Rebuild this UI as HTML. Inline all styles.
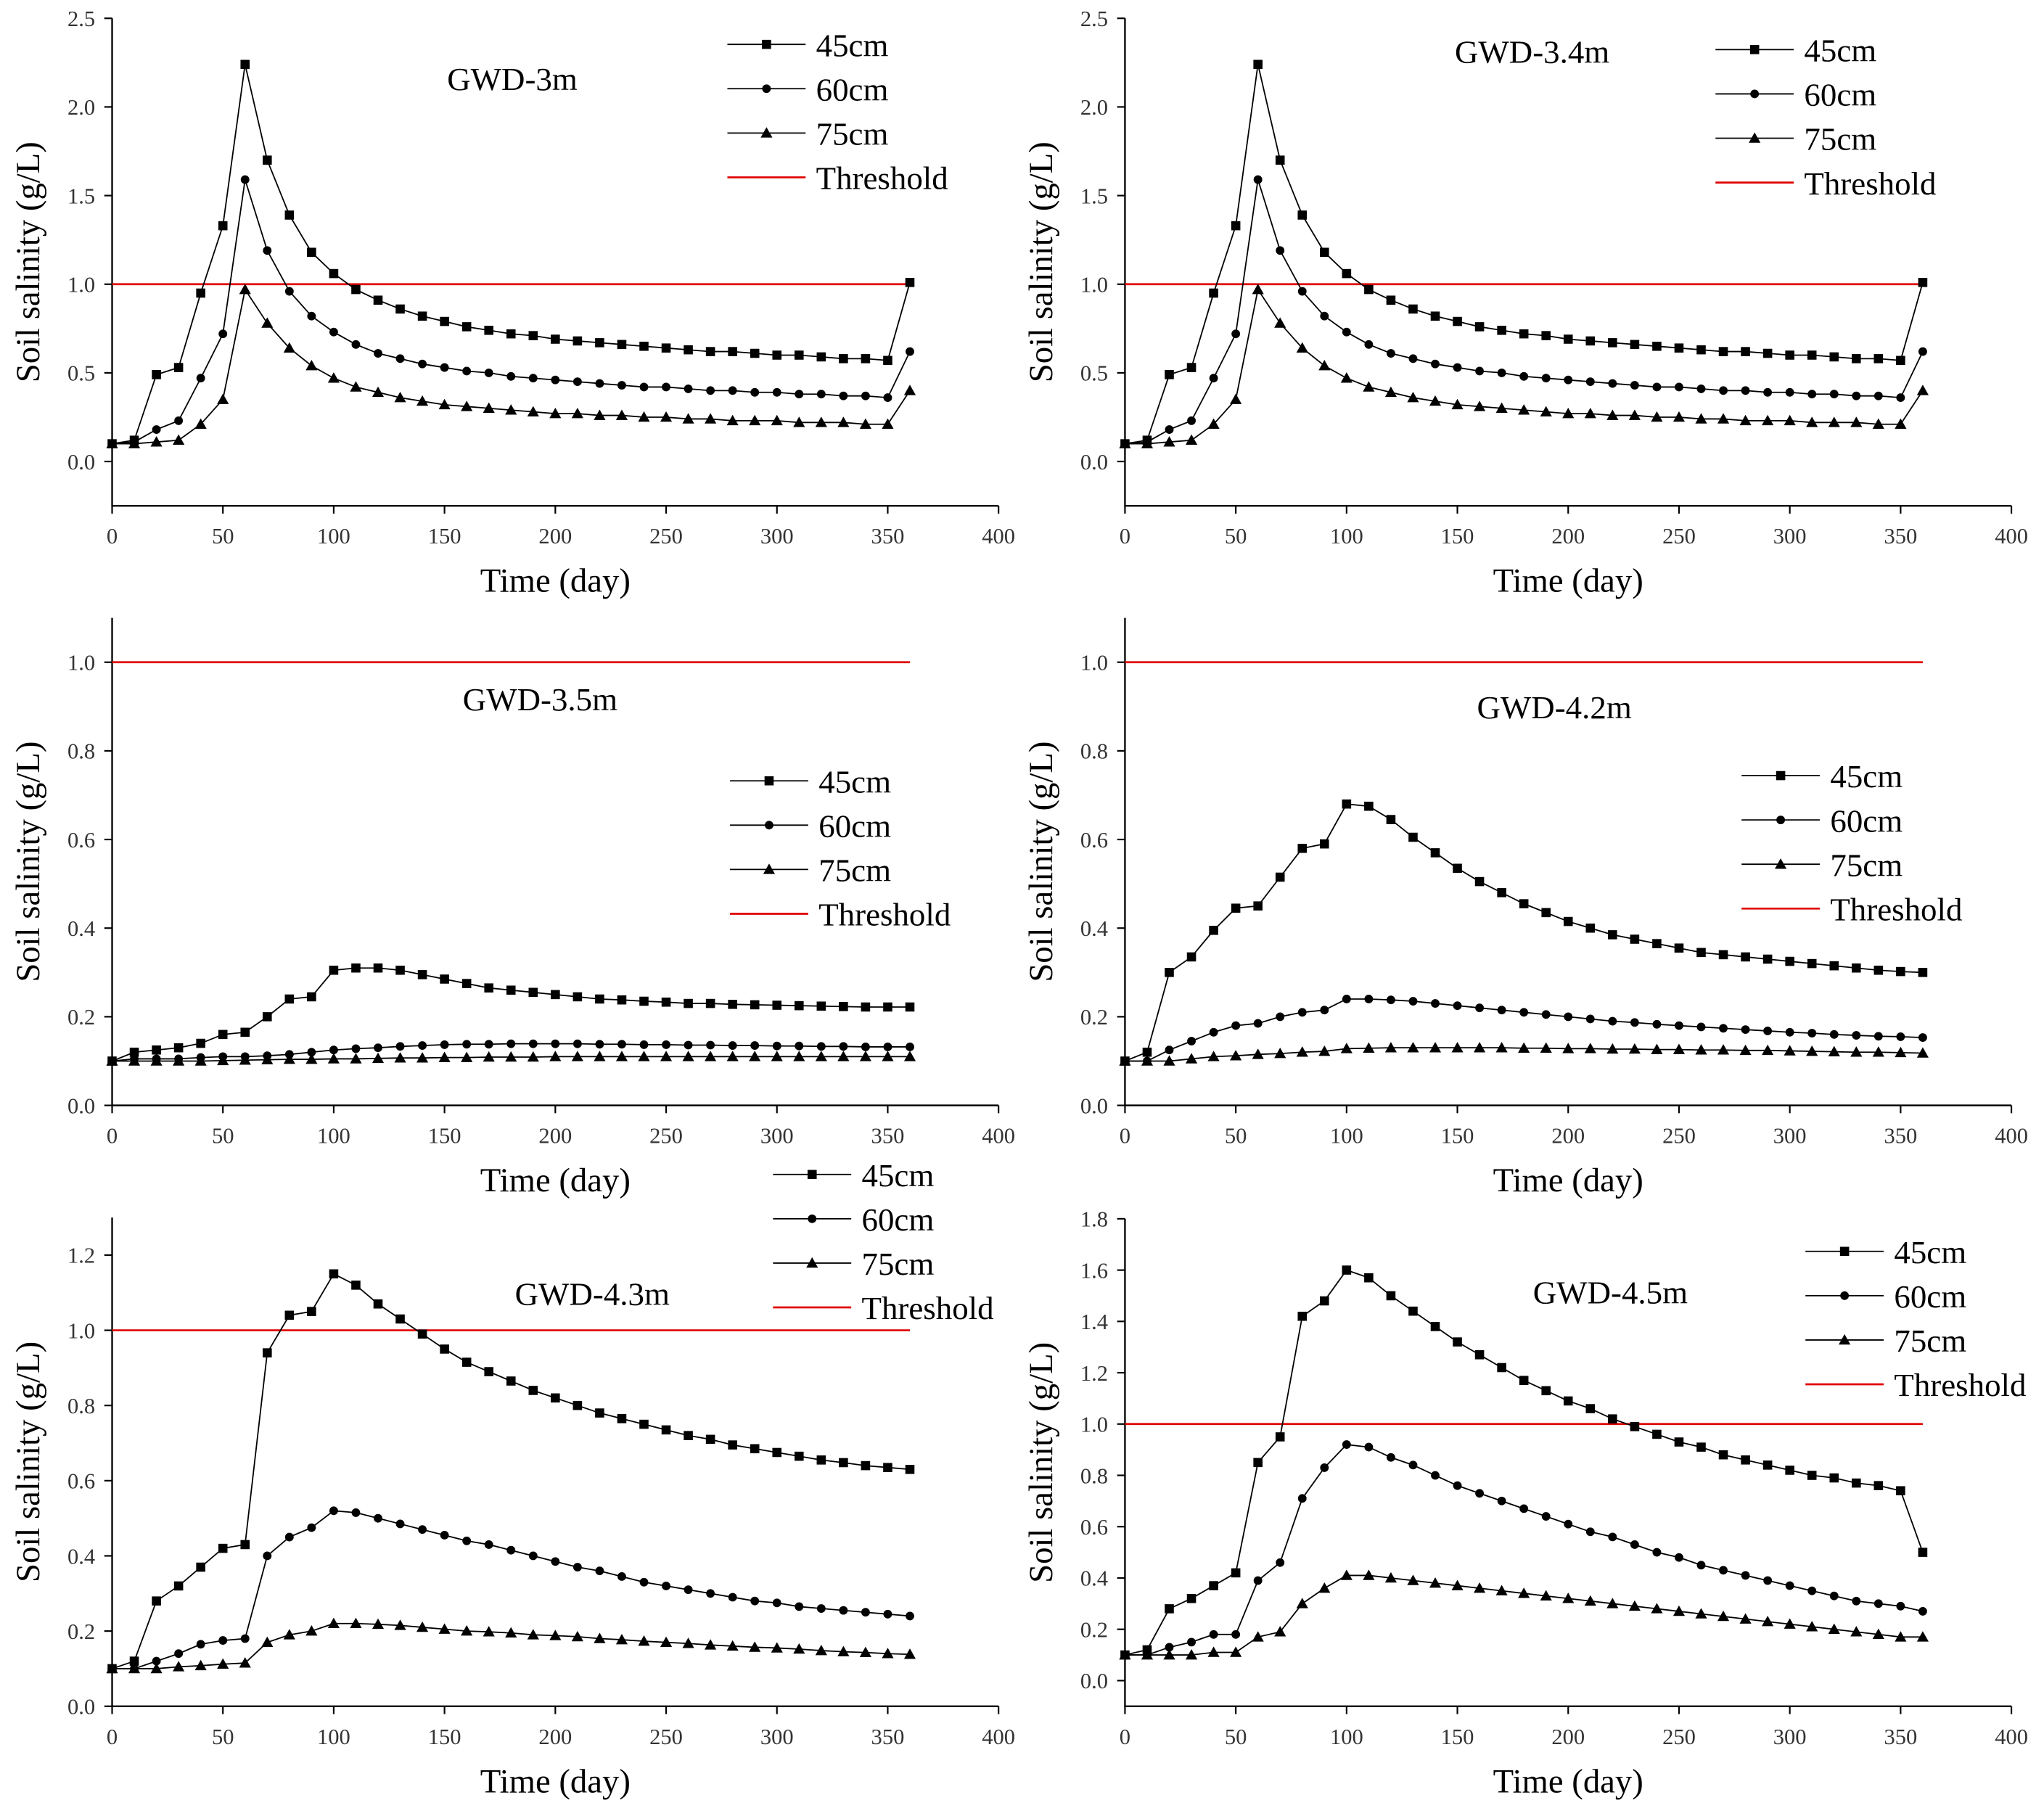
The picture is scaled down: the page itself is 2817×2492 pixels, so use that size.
<!DOCTYPE html>
<html><head><meta charset="utf-8"><style>
html,body{margin:0;padding:0;background:#fff}
svg{display:block}
</style></head><body>
<svg id="chart" width="2817" height="2492" viewBox="0 0 1568 1387" xmlns="http://www.w3.org/2000/svg" font-family="'Liberation Serif', serif"></svg>
<script>
const days = [0,10,20,30,40,50,60,70,80,90,100,110,120,130,140,150,160,170,180,190,200,210,220,230,240,250,260,270,280,290,300,310,320,330,340,350,360];
const xTicks = [0,50,100,150,200,250,300,350,400];
const seriesNames = ["45cm","60cm","75cm"];
const threshold = 1.0;

const p1s45 = [0.1,0.12,0.49,0.53,0.95,1.33,2.24,1.70,1.39,1.18,1.06,0.97,0.91,0.86,0.82,0.79,0.76,0.74,0.72,0.71,0.69,0.68,0.67,0.66,0.65,0.64,0.63,0.62,0.62,0.61,0.60,0.60,0.59,0.58,0.58,0.57,1.01];
const p1s60 = [0.1,0.11,0.18,0.23,0.47,0.72,1.59,1.19,0.96,0.82,0.73,0.66,0.61,0.58,0.55,0.53,0.51,0.50,0.48,0.47,0.46,0.45,0.44,0.43,0.42,0.42,0.41,0.40,0.40,0.39,0.39,0.38,0.38,0.37,0.37,0.36,0.62];
const p1s75 = [0.1,0.1,0.11,0.12,0.21,0.35,0.97,0.78,0.64,0.54,0.47,0.42,0.39,0.36,0.34,0.32,0.31,0.30,0.29,0.28,0.27,0.27,0.26,0.26,0.25,0.25,0.24,0.24,0.23,0.23,0.23,0.22,0.22,0.22,0.21,0.21,0.40];

const p3s45 = [0.1,0.12,0.125,0.13,0.14,0.16,0.165,0.2,0.24,0.245,0.305,0.31,0.31,0.305,0.295,0.285,0.275,0.265,0.26,0.255,0.25,0.245,0.24,0.238,0.235,0.233,0.23,0.23,0.228,0.227,0.226,0.225,0.224,0.223,0.222,0.222,0.222];
const p3s60 = [0.1,0.105,0.105,0.105,0.108,0.11,0.11,0.112,0.115,0.12,0.125,0.128,0.13,0.133,0.135,0.137,0.138,0.138,0.139,0.139,0.139,0.139,0.138,0.138,0.137,0.137,0.136,0.136,0.135,0.135,0.134,0.134,0.133,0.133,0.132,0.132,0.132];
const p3s75 = [0.1,0.1,0.1,0.1,0.1,0.101,0.102,0.103,0.104,0.104,0.105,0.105,0.106,0.107,0.107,0.108,0.108,0.109,0.109,0.109,0.11,0.11,0.11,0.11,0.11,0.11,0.11,0.11,0.11,0.11,0.11,0.11,0.11,0.11,0.11,0.11,0.11];

const p4s45 = [0.1,0.12,0.3,0.335,0.395,0.445,0.45,0.515,0.58,0.59,0.68,0.675,0.645,0.605,0.57,0.535,0.505,0.48,0.455,0.435,0.415,0.4,0.385,0.375,0.365,0.355,0.345,0.34,0.335,0.33,0.325,0.32,0.315,0.31,0.305,0.302,0.3];
const p4s60 = [0.1,0.1,0.125,0.145,0.165,0.18,0.185,0.2,0.21,0.215,0.24,0.24,0.238,0.235,0.23,0.225,0.22,0.215,0.21,0.205,0.2,0.195,0.19,0.187,0.183,0.18,0.177,0.174,0.171,0.168,0.165,0.163,0.16,0.158,0.156,0.155,0.153];
const p4s75 = [0.1,0.1,0.1,0.105,0.11,0.112,0.115,0.117,0.12,0.122,0.128,0.129,0.13,0.13,0.13,0.13,0.13,0.13,0.129,0.129,0.128,0.128,0.127,0.127,0.126,0.126,0.125,0.125,0.124,0.124,0.123,0.122,0.121,0.12,0.12,0.119,0.118];

const p5s45 = [0.1,0.12,0.28,0.32,0.37,0.42,0.43,0.94,1.04,1.05,1.15,1.12,1.07,1.03,0.99,0.95,0.915,0.89,0.865,0.84,0.82,0.80,0.78,0.765,0.75,0.735,0.72,0.71,0.695,0.685,0.675,0.665,0.655,0.648,0.64,0.635,0.63];
const p5s60 = [0.1,0.1,0.12,0.14,0.165,0.175,0.18,0.4,0.45,0.475,0.52,0.515,0.5,0.485,0.47,0.455,0.44,0.43,0.415,0.4,0.385,0.37,0.36,0.345,0.33,0.32,0.31,0.3,0.29,0.28,0.275,0.265,0.26,0.255,0.25,0.245,0.24];
const p5s75 = [0.1,0.1,0.1,0.105,0.108,0.112,0.115,0.17,0.19,0.2,0.22,0.22,0.218,0.215,0.21,0.205,0.2,0.198,0.195,0.19,0.188,0.185,0.18,0.177,0.173,0.17,0.167,0.163,0.16,0.157,0.155,0.152,0.148,0.145,0.143,0.14,0.138];

const p6s45 = [0.1,0.12,0.28,0.32,0.37,0.42,0.85,0.95,1.42,1.48,1.6,1.57,1.5,1.44,1.38,1.32,1.27,1.22,1.17,1.13,1.09,1.06,1.02,0.99,0.96,0.93,0.91,0.88,0.86,0.84,0.82,0.80,0.79,0.77,0.76,0.74,0.5];
const p6s60 = [0.1,0.1,0.13,0.15,0.18,0.18,0.39,0.46,0.71,0.83,0.92,0.91,0.87,0.84,0.8,0.76,0.73,0.7,0.67,0.64,0.61,0.58,0.56,0.53,0.5,0.48,0.45,0.43,0.41,0.39,0.37,0.35,0.33,0.31,0.3,0.29,0.27];
const p6s75 = [0.1,0.1,0.1,0.1,0.11,0.11,0.17,0.19,0.3,0.36,0.41,0.41,0.4,0.39,0.38,0.37,0.36,0.35,0.34,0.33,0.32,0.31,0.3,0.29,0.28,0.27,0.26,0.25,0.24,0.23,0.22,0.21,0.2,0.19,0.18,0.17,0.17];

const yTicks1 = ["0.0","0.5","1.0","1.5","2.0","2.5"];
const yTicks3 = ["0.0","0.2","0.4","0.6","0.8","1.0"];
const yTicks5 = ["0.0","0.2","0.4","0.6","0.8","1.0","1.2"];
const yTicks6 = ["0.0","0.2","0.4","0.6","0.8","1.0","1.2","1.4","1.6","1.8"];

const NS="http://www.w3.org/2000/svg";
const svg=document.getElementById('chart');
const FF="'Liberation Serif', serif";
function mk(tag,attrs,parent){const e=document.createElementNS(NS,tag);for(const k in attrs)e.setAttribute(k,attrs[k]);if(tag==='text')e.setAttribute('font-family',FF);(parent||svg).appendChild(e);return e;}

const panels=[
 {title:"GWD-3m",x0:86,yb:388,y0v:-0.25,y1v:2.5,ytop:14,yTicks:yTicks1,series:[p1s45,p1s60,p1s75],leg:[558,34],tt:[343,61]},
 {title:"GWD-3.4m",x0:863,yb:388,y0v:-0.25,y1v:2.5,ytop:14,yTicks:yTicks1,series:[p1s45,p1s60,p1s75],leg:[1316,38],tt:[1116,40]},
 {title:"GWD-3.5m",x0:86,yb:848,y0v:0,y1v:1.1,ytop:474,yTicks:yTicks3,series:[p3s45,p3s60,p3s75],leg:[560,599],tt:[355,537]},
 {title:"GWD-4.2m",x0:863,yb:848,y0v:0,y1v:1.1,ytop:474,yTicks:yTicks3,series:[p4s45,p4s60,p4s75],leg:[1336,595],tt:[1133,543]},
 {title:"GWD-4.3m",x0:86,yb:1309,y0v:0,y1v:1.3,ytop:934,yTicks:yTicks5,series:[p5s45,p5s60,p5s75],leg:[593,901],tt:[395,993]},
 {title:"GWD-4.5m",x0:863,yb:1309,y0v:-0.1,y1v:1.8,ytop:935,yTicks:yTicks6,series:[p6s45,p6s60,p6s75],leg:[1385,960],tt:[1176,992]}
];

function marker(g,i,x,y){
  if(i===0) return mk('rect',{x:x-3.5,y:y-3.5,width:7,height:7,fill:'#000'},g);
  if(i===1) return mk('circle',{cx:x,cy:y,r:3.3,fill:'#000'},g);
  return mk('polygon',{points:`${x},${y-4.5} ${x+4.5},${y+3.5} ${x-4.5},${y+3.5}`,fill:'#000'},g);
}

panels.forEach((p,pi)=>{
  const g=mk('g',{});
  
  
  const xs=v=>p.x0+v*1.7;
  const ys=v=>p.yb-(v-p.y0v)/(p.y1v-p.y0v)*(p.yb-p.ytop);
  const ax=mk('path',{d:`M${p.x0},${p.ytop} V${p.yb} H${p.x0+680}`,stroke:'#000','stroke-width':1.3,fill:'none'},g);
  
  
  xTicks.forEach(t=>{
    mk('line',{x1:xs(t),x2:xs(t),y1:p.yb,y2:p.yb+6,stroke:'#000','stroke-width':1.2},g);
    const tx=mk('text',{x:xs(t),y:p.yb+29,'text-anchor':'middle','font-size':17,fill:'#333'},g);tx.textContent=t;
    
    
  });
  p.yTicks.forEach(t=>{
    const v=parseFloat(t);
    mk('line',{x1:p.x0-6,x2:p.x0,y1:ys(v),y2:ys(v),stroke:'#000','stroke-width':1.2},g);
    const tx=mk('text',{x:p.x0-13,y:ys(v)+6,'text-anchor':'end','font-size':17,fill:'#333'},g);tx.textContent=t;
    
    
  });
  const xl=mk('text',{x:p.x0+340,y:p.yb+66,'text-anchor':'middle','font-size':26},g);xl.textContent="Time (day)";
  
  
  const yc=(p.ytop+p.yb)/2;
  const yl=mk('text',{x:p.x0-56,y:yc,'text-anchor':'middle','font-size':26,transform:`rotate(-90 ${p.x0-56} ${yc})`},g);yl.textContent="Soil salinity (g/L)";
  
  
  const th=mk('line',{x1:xs(0),x2:xs(360),y1:ys(threshold),y2:ys(threshold),stroke:'#e00000','stroke-width':1.5},g);
  
  
  p.series.forEach((s,i)=>{
    const sg=mk('g',{},g);
    
    
    mk('polyline',{points:s.map((v,k)=>xs(days[k])+','+ys(v)).join(' '),fill:'none',stroke:'#000','stroke-width':1},sg);
    s.forEach((v,k)=>{const m=marker(sg,i,xs(days[k]),ys(v));
      
      });
  });
  const tt=mk('text',{x:p.tt[0],y:p.tt[1]+8,'font-size':25},g);tt.textContent=p.title;
  
  
  const lg=mk('g',{},g);
  
  
  const labels=["45cm","60cm","75cm","Threshold"];
  labels.forEach((l,i)=>{
    const y=p.leg[1]+i*34, x=p.leg[0];
    mk('line',{x1:x,x2:x+60,y1:y,y2:y,stroke:i===3?'#e00000':'#000','stroke-width':i===3?1.5:1},lg);
    if(i<3) marker(lg,i,x+30,y);
    const t=mk('text',{x:x+68,y:y+9,'font-size':25},lg);t.textContent=l;
    
    
  });
});
</script>
</body></html>
